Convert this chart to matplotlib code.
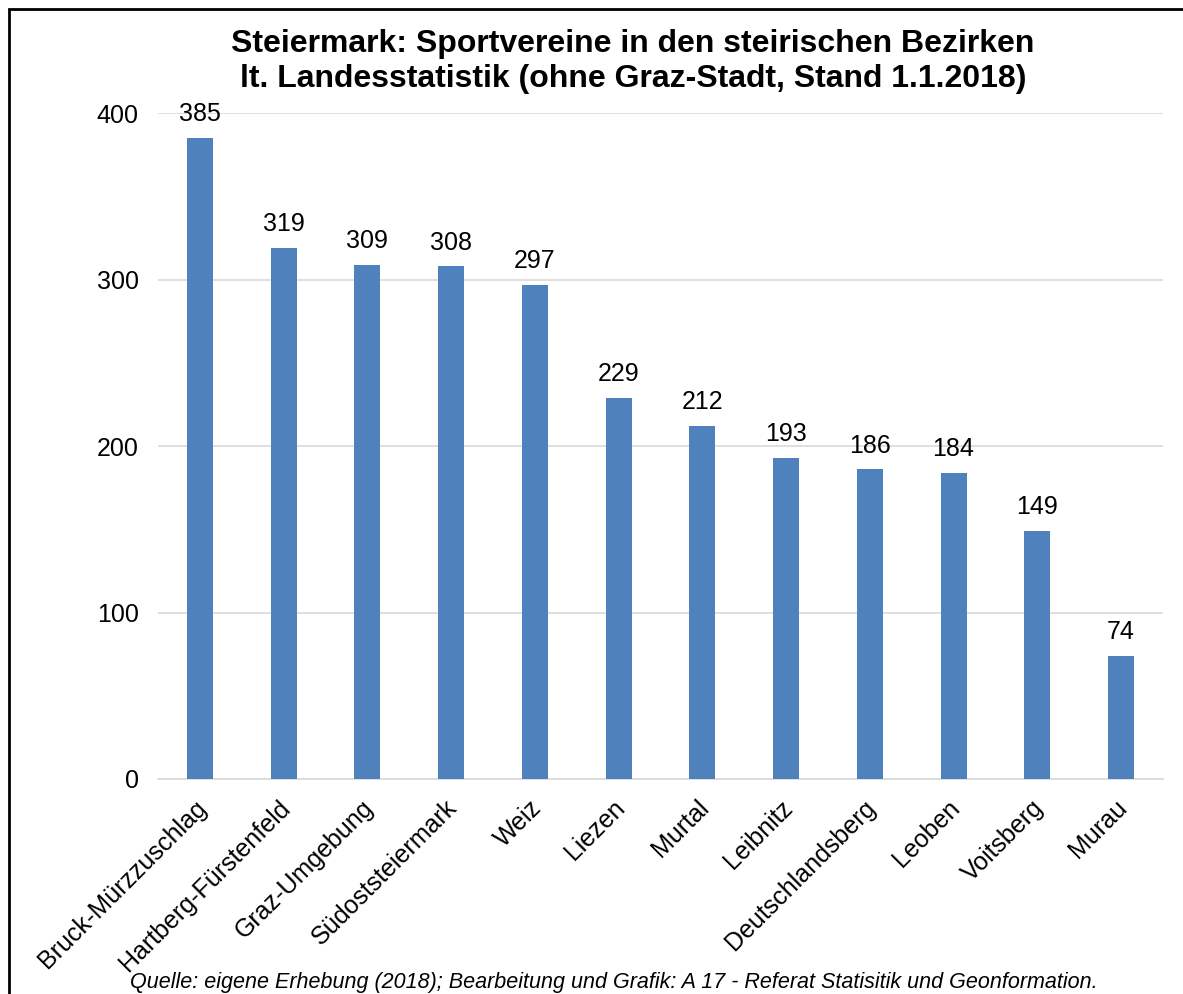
import matplotlib
matplotlib.use("Agg")
import matplotlib.pyplot as plt
import matplotlib.transforms as mtransforms
from matplotlib.patches import Rectangle

bezirke = ["Bruck-Mürzzuschlag", "Hartberg-Fürstenfeld", "Graz-Umgebung",
           "Südoststeiermark", "Weiz", "Liezen", "Murtal", "Leibnitz",
           "Deutschlandsberg", "Leoben", "Voitsberg", "Murau"]
vereine = [385, 319, 309, 308, 297, 229, 212, 193, 186, 184, 149, 74]
yticks = [0, 100, 200, 300, 400]

plt.rcParams['font.family'] = ['Liberation Sans', 'DejaVu Sans']

fig = plt.figure(figsize=(11.83, 9.94), dpi=100)
ax = fig.add_axes([0.1336, 0.2163, 0.8494, 0.67])

x = range(len(bezirke))
bars = ax.bar(x, vereine, width=0.31, color='#4f81bd', zorder=3)
for xi, v in zip(x, vereine):
    ax.text(xi, v + 7, str(v), ha='center', va='bottom', fontsize=18, color='black', zorder=4)

ax.set_xlim(-0.5, len(bezirke) - 0.5)
ax.set_ylim(0, 400)
ax.set_yticks(yticks)
ax.set_yticklabels([str(t) for t in yticks], fontsize=18)
ax.set_xticks(list(x))
ax.set_xticklabels(bezirke, rotation=45, ha='right', rotation_mode='anchor', fontsize=18)
ax.tick_params(axis='both', length=0)
ax.tick_params(axis='y', pad=14)
ax.tick_params(axis='x', pad=12)
# nudge the rotated category labels a little to the left
shift = mtransforms.ScaledTranslation(-6 / 100, 0, fig.dpi_scale_trans)
for lbl in ax.get_xticklabels():
    lbl.set_transform(lbl.get_transform() + shift)
ax.grid(axis='y', color='#d9d9d9', linewidth=1.2, zorder=0)
for s in ['top', 'right', 'left']:
    ax.spines[s].set_visible(False)
ax.spines['bottom'].set_color('#d9d9d9')
ax.spines['bottom'].set_linewidth(1.2)

fig.text(0.535, 0.938, "Steiermark: Sportvereine in den steirischen Bezirken\nlt. Landesstatistik (ohne Graz-Stadt, Stand 1.1.2018)",
         ha='center', va='center', fontsize=23, fontweight='bold', linespacing=1.2)
fig.text(0.519, 0.001, "Quelle: eigene Erhebung (2018); Bearbeitung und Grafik: A 17 - Referat Statisitik und Geonformation.",
         ha='center', va='bottom', fontsize=15.5, style='italic')

# frame around the chart (cut off at right and bottom like the original)
fig.patches.append(Rectangle((9 / 1183, -0.1), 1.2, 1.1 - 9 / 994, transform=fig.transFigure,
                             fill=False, edgecolor='black', linewidth=2))

fig.savefig("out.png", dpi=100)
